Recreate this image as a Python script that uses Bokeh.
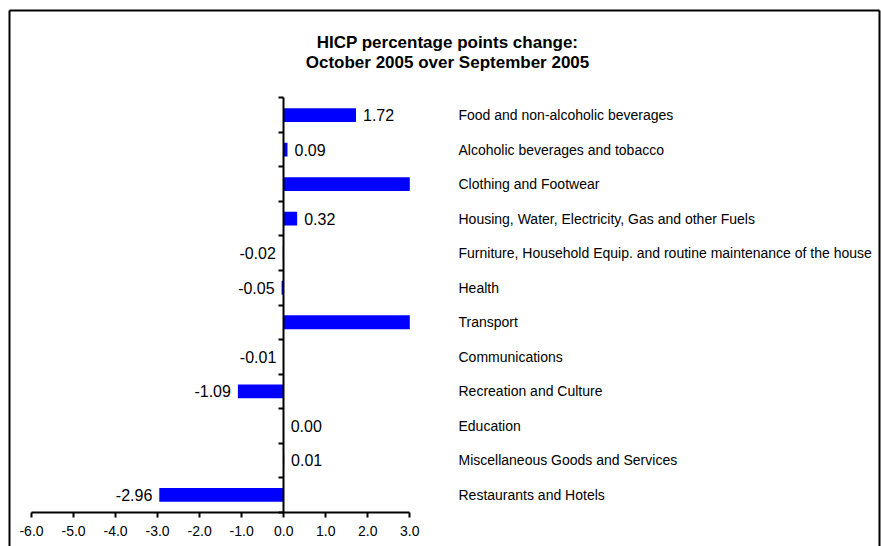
import numpy as np
from bokeh.plotting import figure
from bokeh.models import Range1d, LinearAxis, FixedTicker, ColumnDataSource
from bokeh.core.properties import value
from bokeh.embed import file_html
from bokeh.resources import INLINE

# ---------------- data ----------------
title_lines = ["HICP percentage points change:", "October 2005 over September 2005"]
categories = [
    "Food and non-alcoholic beverages",
    "Alcoholic beverages and tobacco",
    "Clothing and Footwear",
    "Housing, Water, Electricity, Gas and other Fuels",
    "Furniture, Household Equip. and routine maintenance of the house",
    "Health",
    "Transport",
    "Communications",
    "Recreation and Culture",
    "Education",
    "Miscellaneous Goods and Services",
    "Restaurants and Hotels",
]
# Clothing and Transport run past the axis end (labels not shown in the original)
values = [1.72, 0.09, 4.80, 0.32, -0.02, -0.05, 3.90, -0.01, -1.09, 0.00, 0.01, -2.96]
x_ticks = [-6.0, -5.0, -4.0, -3.0, -2.0, -1.0, 0.0, 1.0, 2.0, 3.0]
x_tick_labels = ["-6.0", "-5.0", "-4.0", "-3.0", "-2.0", "-1.0", "0.0", "1.0", "2.0", "3.0"]
AXIS_MIN, AXIS_MAX = x_ticks[0], x_ticks[-1]

# ---------------- layout (pixels within the canvas) ----------------
W, H = 881, 546
SX_MIN, SX_MAX = 31.0, 409.3      # pixel positions of AXIS_MIN / AXIS_MAX
SY_TOP, SY_BOT = 97.3, 511.7      # pixel positions of top / bottom of category axis
n = len(categories)
xscale = (SX_MAX - SX_MIN) / (AXIS_MAX - AXIS_MIN)
yscale = (SY_BOT - SY_TOP) / n
x_start = AXIS_MIN - SX_MIN / xscale
x_end = x_start + W / xscale
y_start = -(H - SY_BOT) / yscale
y_end = SY_BOT / yscale


def px_x(sx):
    return x_start + sx / xscale


def px_y(sy):
    return (SY_BOT - sy) / yscale


FONT = "Liberation Sans"

p = figure(width=W, height=H, x_range=Range1d(x_start, x_end), y_range=Range1d(y_start, y_end),
           output_backend="svg", toolbar_location=None, min_border=0,
           x_axis_location=None, y_axis_location=None,
           background_fill_color="white", border_fill_color="white", outline_line_color=None)
p.grid.grid_line_color = None

ypos = [n - 0.5 - i for i in range(n)]
vals = np.array(values)
bar_right = np.clip(vals, AXIS_MIN, AXIS_MAX)

src = ColumnDataSource(dict(y=ypos, right=bar_right, cat=categories))
p.hbar(y="y", left=0, right="right", height=0.4, source=src,
       fill_color="#0000FF", line_color=None)

# value labels (only for bars that end within the axis)
vis = [i for i, v in enumerate(values) if AXIS_MIN <= v <= AXIS_MAX]
pos = [i for i in vis if values[i] >= 0]
neg = [i for i in vis if values[i] < 0]
p.text(x=[values[i] for i in pos], y=[ypos[i] for i in pos],
       text=["{:.2f}".format(values[i]) for i in pos],
       text_align="left", text_baseline="middle", x_offset=7,
       text_font=value(FONT), text_font_size="16px", text_color="black")
p.text(x=[values[i] for i in neg], y=[ypos[i] for i in neg],
       text=["{:.2f}".format(values[i]) for i in neg],
       text_align="right", text_baseline="middle", x_offset=-7,
       text_font=value(FONT), text_font_size="16px", text_color="black")

# category labels
p.text(x=[px_x(458)] * n, y=ypos, text=categories,
       text_align="left", text_baseline="middle",
       text_font=value(FONT), text_font_size="14px", text_color="black")

# title
p.text(x=[px_x(447)] * 2, y=[px_y(41.5), px_y(62)], text=title_lines,
       text_align="center", text_baseline="middle",
       text_font=value(FONT), text_font_size="17px", text_font_style="bold",
       text_color="black")

# axes
xaxis = LinearAxis(fixed_location=0, bounds=(AXIS_MIN, AXIS_MAX),
                   ticker=FixedTicker(ticks=x_ticks),
                   major_label_overrides={t: l for t, l in zip(x_ticks, x_tick_labels)})
xaxis.axis_line_width = 2
xaxis.major_tick_line_width = 2
xaxis.major_tick_in = 0
xaxis.major_tick_out = 5
xaxis.minor_tick_line_color = None
xaxis.major_label_standoff = 9
xaxis.major_label_text_font = FONT
xaxis.major_label_text_font_size = "14px"
xaxis.major_label_text_color = "black"
p.add_layout(xaxis, "below")

yaxis = LinearAxis(fixed_location=0, bounds=(0, n),
                   ticker=FixedTicker(ticks=list(range(n + 1))),
                   major_label_overrides={i: "" for i in range(n + 1)})
yaxis.axis_line_width = 2
yaxis.major_tick_line_width = 2
yaxis.major_tick_in = 0
yaxis.major_tick_out = 5
yaxis.minor_tick_line_color = None
yaxis.major_label_text_font_size = "0px"
p.add_layout(yaxis, "left")

# chart border (left, top, right)
bx0, bx1, by0 = px_x(9), px_x(879), px_y(10)
p.segment(x0=[bx0, bx0, bx1], y0=[y_start, by0, y_start],
          x1=[bx0, bx1, bx1], y1=[by0, by0, by0],
          line_color="black", line_width=2)

open("out.html", "w").write(file_html(p, INLINE))
